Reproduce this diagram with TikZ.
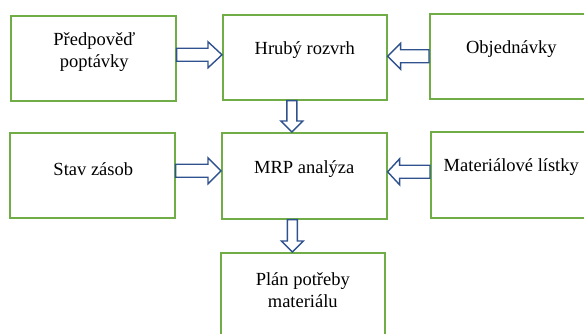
\documentclass[tikz,border=0pt]{standalone}
\usepackage{fontspec}
\setmainfont{Liberation Serif}
\usetikzlibrary{calc}

\definecolor{boxgreen}{HTML}{70AD47}
\definecolor{arrowblue}{HTML}{2F528F}

% block arrow from #1 to #2: shaft half-width #3, head half-width #4, head length #5
\newcommand\blockarrow[5]{%
  \coordinate (bah) at ($(#2)!#5!(#1)$);
  \draw[barrow]
    ($(#1)!#3!90:(#2)$) -- ($(bah)!#3!90:(#2)$) -- ($(bah)!#4!90:(#2)$) --
    (#2) --
    ($(bah)!#4!-90:(#2)$) -- ($(bah)!#3!-90:(#2)$) -- ($(#1)!#3!-90:(#2)$) -- cycle;
}

\tikzset{
  box/.style={draw=boxgreen, line width=1.6pt, fill=white, inner sep=0pt,
              anchor=north west},
  lbl/.style={align=center, inner sep=0pt, font=\fontsize{18.5}{22}\selectfont},
  barrow/.style={draw=arrowblue, line width=1.4pt, fill=white, line join=miter},
}

\begin{document}
\begin{tikzpicture}[x=1pt, y=-1pt]
  \useasboundingbox (0,0) rectangle (584,334);
  \clip (0,0) rectangle (584,334);

  % boxes
  \node[box, minimum width=165pt, minimum height=85pt] (pp)  at (10,15)  {};
  \node[box, minimum width=164pt, minimum height=85pt] (hr)  at (222,14) {};
  \node[box, minimum width=165pt, minimum height=85pt] (ob)  at (429,13) {};
  \node[box, minimum width=165pt, minimum height=85pt] (sz)  at (9,132)  {};
  \node[box, minimum width=165pt, minimum height=86pt] (mrp) at (221,132) {};
  \node[box, minimum width=165pt, minimum height=86pt] (ml)  at (430,131) {};
  \node[box, minimum width=164pt, minimum height=100pt] (pl) at (220,252) {};

  % labels
  \node[lbl] (pp-t)  at ($(pp.north)+(1,37)$)  {Předpověď\\poptávky};
  \node[lbl] (hr-t)  at ($(hr.north)+(0,36)$)  {Hrubý rozvrh};
  \node[lbl] (ob-t)  at ($(ob.north)+(-1,36)$) {Objednávky};
  \node[lbl] (sz-t)  at ($(sz.north)+(1,37)$)  {Stav zásob};
  \node[lbl] (mrp-t) at ($(mrp.north)+(0,37)$) {MRP analýza};
  \node[lbl] (ml-t)  at ($(ml.north)+(-2,36)$) {Materiálové lístky};
  \node[lbl] (pl-t)  at ($(pl.north)+(0,38)$)  {Plán potřeby\\materiálu};

  % connector end points
  \coordinate (a1s) at ($(pp.east)+(0,-3.5)$);
  \coordinate (a1e) at (a1s -| hr.west);
  \coordinate (a2s) at ($(ob.west)+(0,0)$);
  \coordinate (a2e) at (a2s -| hr.east);
  \coordinate (a3s) at ($(hr.south)+(-13,0)$);
  \coordinate (a3e) at (a3s |- mrp.north);
  \coordinate (a4s) at ($(sz.east)+(0,-4.5)$);
  \coordinate (a4e) at (a4s -| mrp.west);
  \coordinate (a5s) at ($(ml.west)+(0,-3)$);
  \coordinate (a5e) at (a5s -| mrp.east);
  \coordinate (a6s) at ($(mrp.south)+(-12,0)$);
  \coordinate (a6e) at (a6s |- pl.north);

  % block arrows
  \blockarrow{a1s}{a1e}{6.5pt}{13pt}{14pt}
  \blockarrow{a2s}{a2e}{6.5pt}{13pt}{13pt}
  \blockarrow{a3s}{a3e}{5pt}{11pt}{11pt}
  \blockarrow{a4s}{a4e}{6.5pt}{13pt}{13pt}
  \blockarrow{a5s}{a5e}{6.5pt}{13pt}{12pt}
  \blockarrow{a6s}{a6e}{5pt}{11pt}{11pt}
\end{tikzpicture}
\end{document}
